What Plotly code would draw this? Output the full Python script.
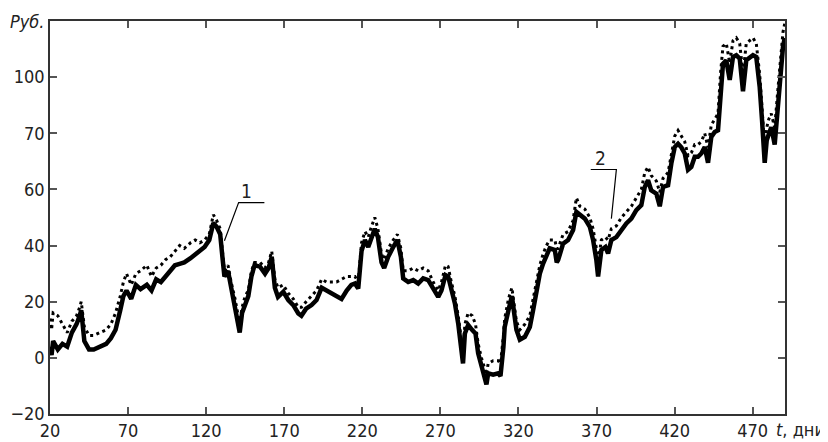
import plotly.graph_objects as go

# Time (days) and prices
t = [20, 21, 22, 25, 28, 31, 34, 37, 39, 40, 42, 45, 48, 50, 53, 56, 59, 62, 65, 67,
     69, 72, 75, 78, 82, 85, 88, 91, 94, 97, 100, 103, 106, 110, 113, 116, 119, 122,
     124.6, 126.7, 129, 130.4, 131.7, 134, 136, 138.5, 140.5, 141.5, 143, 145, 147, 149,
     151, 154.5, 157.7, 160, 162, 164, 166, 169.4, 172.6, 175.8, 179, 181, 184, 187.5,
     190.7, 194, 197, 200, 203.5, 206.7, 210, 213, 215.3, 217.4, 219.5, 221.7, 223.8,
     226, 228, 230, 232.3, 234, 236.6, 239.8, 242.5, 244.7, 246.2, 249.4, 252.6, 255.8,
     259, 262.2, 265.4, 268.6, 270.7, 273.3, 275, 277, 279.3, 281.4, 283.5, 284.5, 285.7,
     287.8, 290.4, 292.5, 294.2, 296.3, 298.5, 299.5, 300.6, 303.8, 307, 308.5, 310.4,
     311.2, 313.6, 315.8, 318.7, 320.9, 324.1, 327.3, 329.4, 331.5, 333.7, 335.8, 337.9,
     340, 343.3, 344.5, 345.4, 348.6, 351.8, 355, 357.1, 359.3, 362.5, 365.7, 367.8,
     369.9, 371, 373.1, 375.7, 377.4, 379.5, 382.7, 385.9, 389.1, 392.3, 395.5, 398.7,
     400.9, 403, 405, 408.3, 410.5, 412.6, 415.8, 417.9, 420.1, 422.2, 424.3, 426.5,
     428.6, 430.7, 432.9, 435, 437.1, 439.3, 441.4, 443.5, 445.7, 447.8, 449.5, 451,
     453.1, 455.3, 457.4, 459.5, 461.7, 463.8, 465.9, 468.1, 470.2, 472.3, 474.5, 476,
     477.7, 479, 480.3, 481.9, 484.1, 486.2, 488, 489.4, 490.5]

price_1 = [4, 1, 6, 3, 5, 4, 9, 12, 15, 17, 6, 3, 3, 3.5, 4, 5, 7, 10, 17, 22,
           24, 21, 26, 24.5, 26, 24, 28, 27, 29, 31, 33, 33.5, 34, 35.5, 37, 38, 39.5, 42,
           48, 46.7, 44, 36, 29, 31, 25, 19, 12, 9, 16, 19, 22, 29,
           33, 32.5, 30, 32, 36, 25, 21.7, 23.5, 20.6, 18.8, 15.8, 15, 17.5, 18.8,
           20.6, 25, 24, 23, 22.3, 21, 24, 26, 26.5, 24.7, 38, 42, 39.5,
           43, 46, 43, 34, 32, 36, 39.5, 42, 36, 28.3, 27, 27.7, 26.5,
           28.3, 27.7, 24.7, 21.7, 24, 29.5, 29, 24, 19.4, 12.3, 1.6, -2, 8.7,
           11.7, 9.9, 8.7, 1.6, -3.2, -8, -9.5, -5.5, -6, -5.5, -6.5, 4,
           11, 17, 22, 10, 6.5, 7.5, 11, 17, 24, 30, 33.6, 36.6,
           39, 38.4, 34, 34.8, 40.7, 42, 45.5, 52, 50.8, 49.6, 46.7, 42,
           34.8, 29, 38.4, 39.5, 37.2, 42, 43, 45.5, 47.9, 49.6, 52.6, 54.4,
           60.9, 63.3, 59.7, 58.5, 54, 60.9, 61.5, 69.2, 75.1, 76.3, 75, 72.8,
           67, 68, 71.6, 71.6, 72.8, 75.1, 69.5, 78.7, 80.5, 81.1, 96.5, 104.8,
           106, 99, 107.2, 107.8, 106.6, 95, 106, 107.2, 107.8, 107.2, 96.5, 84.6,
           69.5, 77.5, 79.9, 82.2, 76, 90.6, 102.4, 110.7, 114]

price_2 = [14, 10, 16, 15, 12, 9, 13, 15, 18, 20, 11, 8, 8, 8.5, 9, 10, 12, 16, 22, 27,
           30, 26, 30, 31, 33, 29, 32, 33, 35, 36, 38, 40, 39, 41, 42, 41, 42, 44,
           51, 49, 46, 38, 31, 33, 27, 21, 15, 12, 18, 22, 24, 31,
           34, 34, 32, 34, 38, 28, 25, 26, 23, 21, 18, 18, 20, 22,
           24, 28, 27, 27, 27, 28, 29, 29, 29, 27, 41, 45, 43,
           47, 50, 46, 37, 35, 39, 42, 44, 39, 31, 31, 32, 31,
           32, 31, 27, 24, 27, 33, 32.5, 27, 22, 15, 5, 2, 12,
           16, 15, 12, 5, 0, -4, -6, -2, -1, -1, -2, 8,
           14, 21, 25, 13, 10, 12, 15, 21, 27, 33, 37, 40,
           42, 42, 39, 39, 44, 45, 49, 57, 54, 53, 50, 46,
           39, 34, 42, 43, 42, 46, 47, 50, 52, 54, 57, 60,
           66, 68, 65, 63, 59, 64, 66, 73, 79, 81, 79, 77,
           72, 73, 76, 76, 77, 80, 75, 83, 85, 87, 102, 111,
           112, 105, 113, 114, 112, 101, 112, 113, 114, 112, 101, 89,
           74, 82, 85, 87, 82, 96, 108, 116, 119]

x_ticks = [20, 70, 120, 170, 220, 270, 320, 370, 420, 470]
y_ticks = [-20, 0, 20, 40, 60, 80, 100]
y_tick_labels = ["−20", "0", "20", "40", "60", "70", "100"]

FONT = "Liberation Sans Narrow, DejaVu Sans Condensed, Arial Narrow, sans-serif"

fig = go.Figure()
fig.add_trace(go.Scatter(x=t, y=price_2, mode="lines",
                         line=dict(color="black", width=3, dash="3px,3.5px"),
                         showlegend=False))
fig.add_trace(go.Scatter(x=t, y=price_1, mode="lines",
                         line=dict(color="black", width=4.5),
                         showlegend=False))

axis_common = dict(showline=True, linecolor="#333", linewidth=1.5, mirror="ticks",
                   ticks="inside", ticklen=7, tickwidth=1.5, tickcolor="#555",
                   showgrid=False, zeroline=False, automargin=False,
                   tickfont=dict(family=FONT, size=18, color="#222"))

fig.update_xaxes(range=[20, 490.7], tickvals=x_ticks, **axis_common)
fig.update_yaxes(range=[-20, 120], tickvals=y_ticks, ticktext=y_tick_labels,
                 ticklabelstandoff=0, **axis_common)

# Leader lines for labels 1 and 2
fig.add_shape(type="path", path="M 131.7 41.7 L 140.8 55.3 L 157.3 55.3",
              xref="x", yref="y", line=dict(color="black", width=1.2))
fig.add_shape(type="path", path="M 366.3 67.1 L 382.7 67.1 L 379.5 49.6",
              xref="x", yref="y", line=dict(color="black", width=1.2))

fig.add_annotation(x=146, y=59.5, xref="x", yref="y", text="1", showarrow=False,
                   font=dict(family=FONT, size=19, color="#222"))
fig.add_annotation(x=372.3, y=71.3, xref="x", yref="y", text="2", showarrow=False,
                   font=dict(family=FONT, size=19, color="#222"))

# The page body has an 8px default margin, so the figure is shrunk by that amount
OFF = 8
W, H = 828 - OFF, 442 - OFF
L, R, T, B = 50 - OFF, 43, 21 - OFF, 28
pw, ph = W - L - R, H - T - B
# target page pixel -> paper fraction
def px(xp):
    return (xp - OFF - L) / pw
def py(yp):
    return (OFF + H - B - yp) / ph

fig.add_annotation(x=px(8), y=py(22), xref="paper", yref="paper",
                   text="<i>Руб.</i>", showarrow=False, xanchor="left", yanchor="middle",
                   font=dict(family=FONT, size=18, color="#222"))
fig.add_annotation(x=px(774), y=py(430), xref="paper", yref="paper",
                   text="<i>t</i>, дни", showarrow=False, xanchor="left", yanchor="middle",
                   font=dict(family=FONT, size=18, color="#222"))

fig.update_layout(
    width=W, height=H,
    margin=dict(l=L, r=R, t=T, b=B, autoexpand=False),
    plot_bgcolor="white", paper_bgcolor="white",
)

fig.write_html("out.html")
